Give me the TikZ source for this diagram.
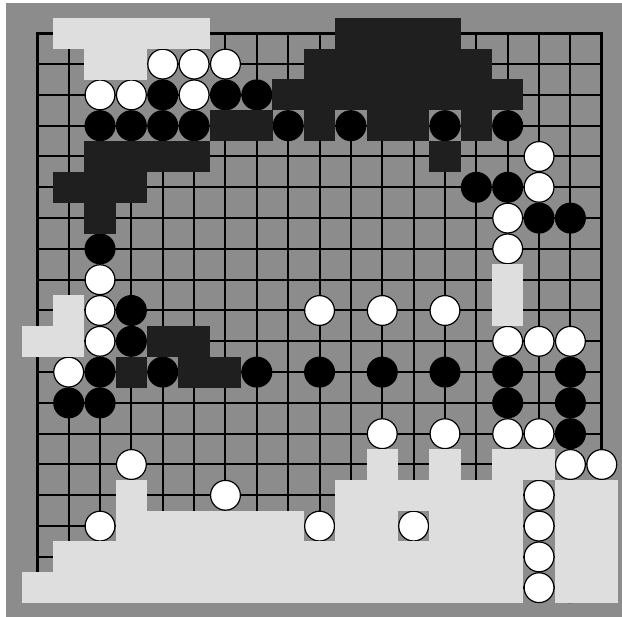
\documentclass[tikz,border=0pt]{standalone}
\definecolor{boardgrey}{RGB}{140,140,140}
\definecolor{terrdark}{RGB}{31,31,31}
\definecolor{terrlight}{RGB}{222,222,222}
\tikzset{
  gridline/.style={line width=2pt,black},
  borderline/.style={line width=3pt,black},
  blackstone/.style={fill=black},
  whitestone/.style={fill=white,draw=black,line width=1.2pt},
}
\newcommand\terrow[3]{\foreach \i in {#3}{\fill[#1] ({37.3+31.36*\i-15.75},{33.3+30.8*#2-15.45}) rectangle ({37.3+31.36*\i+15.75},{33.3+30.8*#2+15.45});}}
\newcommand\blackrow[2]{\foreach \i in {#2}{\fill[blackstone] ({37.3+31.36*\i},{33.3+30.8*#1}) circle (15.5);}}
\newcommand\whiterow[2]{\foreach \i in {#2}{\filldraw[whitestone] ({37.3+31.36*\i},{33.3+30.8*#1}) circle (14.9);}}
\begin{document}
\begin{tikzpicture}[x=1pt,y=-1pt]
\useasboundingbox (0,0) rectangle (622,617);
\fill[white] (0,0) rectangle (622,617);
\fill[boardgrey] (6,3) rectangle (622,617);
% grid
\foreach \k in {1,...,17}{
  \draw[gridline] ({37.3+31.36*\k},33.3) -- ({37.3+31.36*\k},587.7);
  \draw[gridline] (37.3,{33.3+30.8*\k}) -- (601.8,{33.3+30.8*\k});
}
\draw[borderline] (37.3,33.3) rectangle (601.8,587.7);
% black stones
\blackrow{2}{4,6,7}
\blackrow{3}{2,3,4,5,8,10,13,15}
\blackrow{5}{14,15}
\blackrow{6}{16,17}
\blackrow{7}{2}
\blackrow{9}{3}
\blackrow{10}{3}
\blackrow{11}{2,4,7,9,11,13,15,17}
\blackrow{12}{1,2,15,17}
\blackrow{13}{17}
\blackrow{18}{17}
% white stones
\whiterow{1}{4,5,6}
\whiterow{2}{2,3,5}
\whiterow{4}{16}
\whiterow{5}{16}
\whiterow{6}{15}
\whiterow{7}{15}
\whiterow{8}{2}
\whiterow{9}{2,9,11,13}
\whiterow{10}{2,15,16,17}
\whiterow{11}{1}
\whiterow{13}{11,13,15,16}
\whiterow{14}{3,17,18}
\whiterow{15}{6,16}
\whiterow{16}{2,9,12,16,18}
\whiterow{17}{16}
\whiterow{18}{16}
% dark territory
\terrow{terrdark}{0}{10,...,13}
\terrow{terrdark}{1}{9,...,14}
\terrow{terrdark}{2}{8,...,15}
\terrow{terrdark}{3}{6,7,9,11,12,14}
\terrow{terrdark}{4}{2,3,4,5,13}
\terrow{terrdark}{5}{1,2,3}
\terrow{terrdark}{6}{2}
\terrow{terrdark}{10}{4,5}
\terrow{terrdark}{11}{3,5,6}
% light territory
\terrow{terrlight}{0}{1,...,5}
\terrow{terrlight}{1}{2,3}
\terrow{terrlight}{8}{15}
\terrow{terrlight}{9}{1,15}
\terrow{terrlight}{10}{0,1}
\terrow{terrlight}{14}{11,13,15,16}
\terrow{terrlight}{15}{3,10,11,12,13,14,15,17,18}
\terrow{terrlight}{16}{3,4,5,6,7,8,10,11,13,14,15,17,18}
\terrow{terrlight}{17}{1,...,15,17,18}
\terrow{terrlight}{18}{0,...,15,17,18}
\end{tikzpicture}
\end{document}
